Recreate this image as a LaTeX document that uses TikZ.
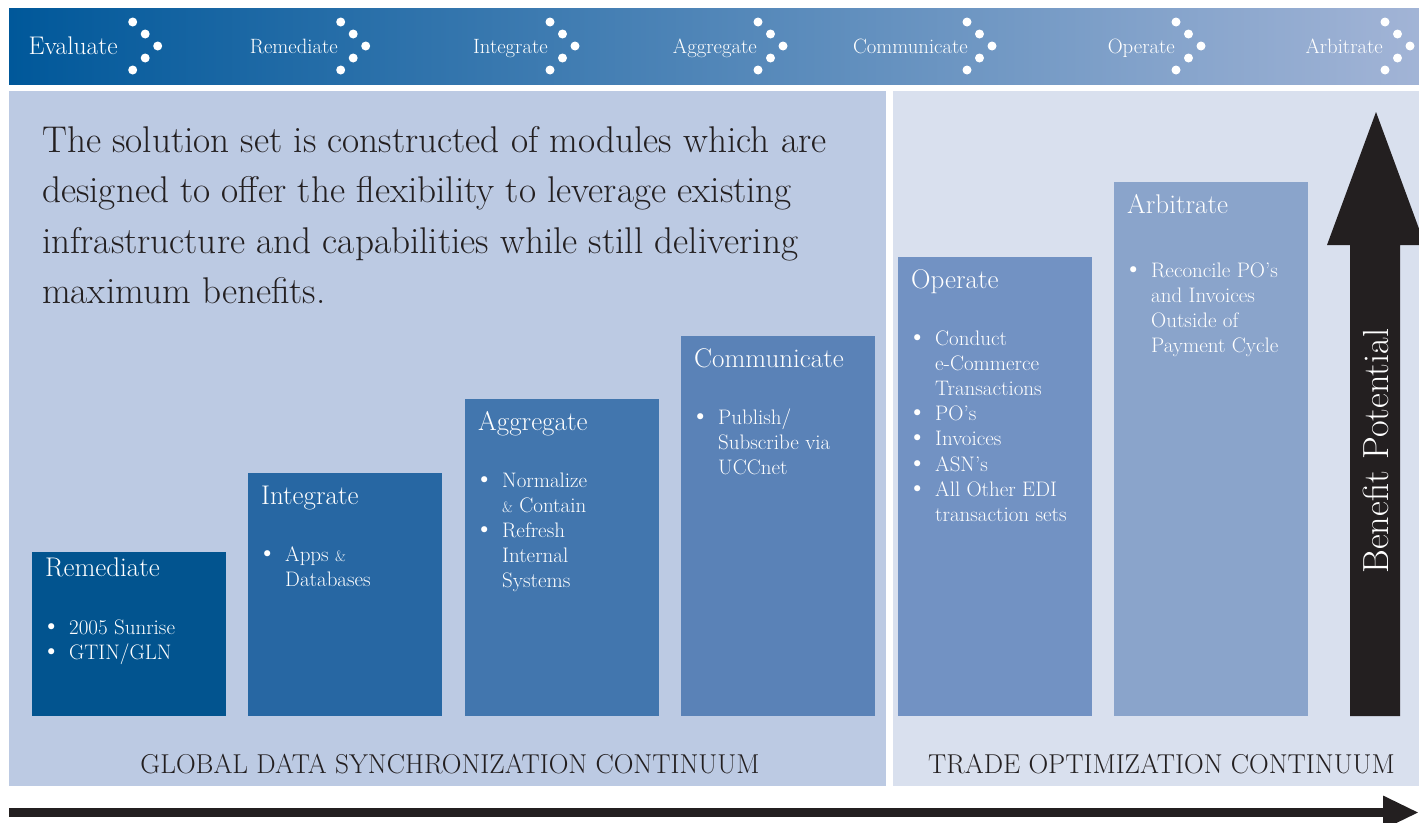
\documentclass[tikz,border=0pt]{standalone}
\usepackage{fontspec}
\usepackage{tikz}
\usetikzlibrary{positioning, arrows.meta, calc}

\newfontfamily\bulletfont{DejaVu Sans}

\definecolor{inkdark}{RGB}{35,31,32}
\definecolor{bannerleft}{RGB}{0,88,154}
\definecolor{bannerright}{RGB}{162,180,214}
\definecolor{syncpanel}{RGB}{188,202,227}
\definecolor{tradepanel}{RGB}{217,224,238}
\definecolor{remcol}{RGB}{2,84,143}
\definecolor{intcol}{RGB}{39,103,163}
\definecolor{aggcol}{RGB}{66,118,174}
\definecolor{comcol}{RGB}{90,130,183}
\definecolor{opecol}{RGB}{114,146,195}
\definecolor{arbcol}{RGB}{138,164,203}

% bullet list with hanging indent
\newcommand{\bul}{{\bulletfont\char"2022}}
\newcommand{\blist}[1]{\begin{tabular}[t]{@{}p{24pt}@{}l@{}}#1\end{tabular}}
\newcommand{\smallamp}{{\fontsize{15}{15}\selectfont\&}}

\begin{document}
\begin{tikzpicture}[x=1pt, y=-1pt,
    panel/.style={rectangle, anchor=north west, inner sep=0pt, minimum height=695pt},
    banner/.style={rectangle, anchor=north west, inner sep=0pt,
                   minimum width=1410pt, minimum height=76pt,
                   left color=bannerleft, right color=bannerright},
    banlabel/.style={anchor=base east, inner sep=0pt, text=white,
                     font=\fontsize{20.7}{24}\selectfont},
    stepbox/.style={rectangle, anchor=north west, inner sep=0pt, minimum width=194pt},
    steptitle/.style={anchor=base west, inner sep=0pt, text=white,
                      font=\fontsize{27}{32}\selectfont},
    steplist/.style={anchor=base west, inner sep=0pt, text=white,
                     font=\fontsize{21}{25.2}\selectfont},
    continuum/.style={anchor=base, inner sep=0pt, text=inkdark,
                      font=\fontsize{27.3}{32}\selectfont},
    flow/.style={draw=inkdark, line width=9.5pt, -{Triangle[length=36pt, width=31pt]}},
]
\fill[white] (0,0) rectangle (1419,822);
\useasboundingbox (0,0) rectangle (1419,822);

% Top banner with the step names
\node[banner] (banner) at (9,8) {};
\node[banlabel, font=\fontsize{25.5}{30}\selectfont] (ban-Evaluate) at (118,54) {Evaluate};
\foreach \dx/\dy in {0/22, 12.5/34, 25/46, 12.5/58, 0/70}
    \fill[white] (132.7+\dx,\dy) circle[radius=4.5];
\foreach \lbl/\xe/\xd in {Remediate/338/340.7, Integrate/548/550, Aggregate/757/758,
                          Communicate/968/967, Operate/1175/1176, Arbitrate/1383/1385}{
    \node[banlabel] (ban-\lbl) at (\xe,53) {\lbl};
    \foreach \dx/\dy in {0/22, 12.5/34, 25/46, 12.5/58, 0/70}
        \fill[white] (\xd+\dx,\dy) circle[radius=4.5];
}

% Panels
\node[panel, fill=syncpanel, minimum width=877pt] (sync) at (9,91) {};
\node[panel, fill=tradepanel, minimum width=526pt] (trade) at (893,91) {};

\node[anchor=base west, inner sep=0pt, text=inkdark, font=\fontsize{37.2}{50.5}\selectfont]
    (intro) at (42,152) {\begin{tabular}[t]{@{}l@{}}
    The solution set is constructed of modules which are\\
    designed to offer the flexibility to leverage existing\\
    infrastructure and capabilities while still delivering\\
    maximum benefits.\end{tabular}};

% Steps
\node[stepbox, fill=remcol, minimum height=164pt] (rem) at (32,552) {};
\node[stepbox, fill=intcol, minimum height=243pt] (int) at (248,473) {};
\node[stepbox, fill=aggcol, minimum height=317pt] (agg) at (465,399) {};
\node[stepbox, fill=comcol, minimum height=380pt] (com) at (681,336) {};
\node[stepbox, fill=opecol, minimum height=459pt] (ope) at (898,257) {};
\node[stepbox, fill=arbcol, minimum height=534pt] (arb) at (1114,182) {};

\node[steptitle] (remT) at ([shift={(13,24)}]rem.north west) {Remediate};
\node[steplist] (remL) at ([shift={(13,82)}]rem.north west)
    {\blist{\bul & 2005 Sunrise\\ \bul & GTIN/GLN}};

\node[steptitle] (intT) at ([shift={(13,31)}]int.north west) {Integrate};
\node[steplist] (intL) at ([shift={(13,88)}]int.north west)
    {\blist{\bul & Apps \smallamp\\ & Databases}};

\node[steptitle] (aggT) at ([shift={(13,31)}]agg.north west) {Aggregate};
\node[steplist] (aggL) at ([shift={(13,88)}]agg.north west)
    {\blist{\bul & Normalize\\ & \smallamp{} Contain\\ \bul & Refresh\\ & Internal\\ & Systems}};

\node[steptitle] (comT) at ([shift={(13,31)}]com.north west) {Communicate};
\node[steplist] (comL) at ([shift={(13,88)}]com.north west)
    {\blist{\bul & Publish/\\ & Subscribe via\\ & UCCnet}};

\node[steptitle] (opeT) at ([shift={(13,31)}]ope.north west) {Operate};
\node[steplist] (opeL) at ([shift={(13,88)}]ope.north west)
    {\blist{\bul & Conduct\\ & e-Commerce\\ & Transactions\\ \bul & PO's\\
            \bul & Invoices\\ \bul & ASN's\\ \bul & All Other EDI\\
            & transaction sets}};

\node[steptitle] (arbT) at ([shift={(13,31)}]arb.north west) {Arbitrate};
\node[steplist] (arbL) at ([shift={(13,95)}]arb.north west)
    {\blist{\bul & Reconcile PO's\\ & and Invoices\\ & Outside of\\ & Payment Cycle}};

\node[continuum] (syncL) at (450,773) {GLOBAL DATA SYNCHRONIZATION CONTINUUM};
\node[continuum] (tradeL) at (1161.5,773) {TRADE OPTIMIZATION CONTINUUM};

% Benefit arrow
\fill[inkdark] (1350,716) -- (1350,245) -- (1327,245) -- (1376,112) -- (1425,245)
    -- (1400,245) -- (1400,716) -- cycle;
\node[rotate=90, inner sep=0pt, text=white, font=\fontsize{36.3}{40}\selectfont]
    (benefit) at (1376,451) {Benefit Potential};

% Continuum arrow
\coordinate (flowA) at (9,812.5);
\coordinate (flowB) at (1419,812.5);
\draw[flow] (flowA) -- (flowB);

\end{tikzpicture}
\end{document}
